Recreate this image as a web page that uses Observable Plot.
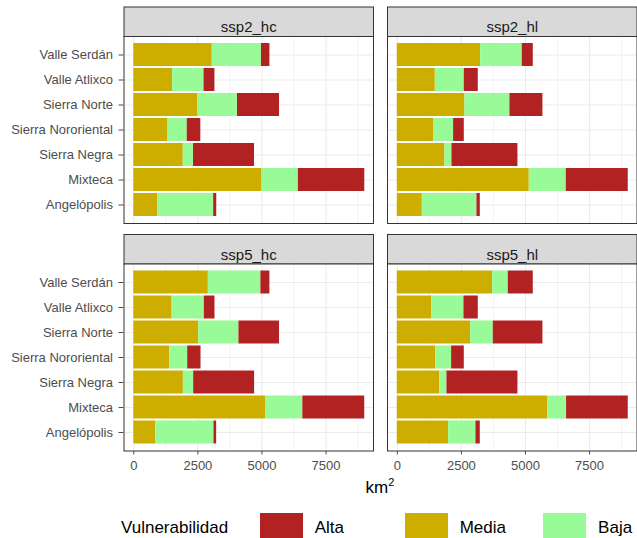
<!DOCTYPE html>
<html>
<head>
<meta charset="utf-8">
<script src="https://cdn.jsdelivr.net/npm/d3@7"></script>
<script src="https://cdn.jsdelivr.net/npm/@observablehq/plot@0.6"></script>
<style>
  html, body { margin: 0; padding: 0; background: #fff; }
  #wrap { position: relative; width: 637px; height: 538px; overflow: hidden; background: #fff;
          font-family: "Liberation Sans", Arial, Helvetica, sans-serif; }
  #chart { position: absolute; left: 0; top: 0; }
  #xtitle { position: absolute; left: 123.5px; width: 513px; top: 479px; text-align: center;
            font-size: 17px; line-height: 17px; color: #000; }
  #xtitle sup { font-size: 11px; vertical-align: 7px; line-height: 0; }
  .lg-title, .lg-label { position: absolute; font-size: 17px; line-height: 17px; color: #000; white-space: nowrap; }
  .lg-key { position: absolute; width: 43px; height: 32px; }
</style>
</head>
<body>
<div id="wrap">
  <div id="chart"></div>
  <div id="xtitle">km<sup>2</sup></div>
  <div id="legend"></div>
</div>
<script>
// Regions, top to bottom
const regions = ["Valle Serdán", "Valle Atlixco", "Sierra Norte", "Sierra Nororiental", "Sierra Negra", "Mixteca", "Angelópolis"];

// Vulnerability classes (legend order) and their fills
const classes = ["Alta", "Media", "Baja"];
const classColors = ["#B22222", "#CDAD00", "#98FB98"];
// Stacking order along x, from zero outward
const stackOrder = ["Media", "Baja", "Alta"];

// Scenario panels
const scenarios = ["ssp2_hc", "ssp2_hl", "ssp5_hc", "ssp5_hl"];

// Area (km²) per region and class, one set per scenario
const ssp2_hc = {
  Media: [3060, 1515, 2500, 1335, 1930, 5000, 926],
  Baja:  [1920, 1225, 1545, 750, 400, 1420, 2190],
  Alta:  [330, 425, 1640, 530, 2380, 2590, 120]
};
const ssp2_hl = {
  Media: [3250, 1482, 2639, 1430, 1859, 5148, 975],
  Baja:  [1625, 1131, 1755, 767, 273, 1443, 2132],
  Alta:  [430, 546, 1287, 416, 2574, 2418, 130]
};
const ssp5_hc = {
  Media: [2908, 1493, 2531, 1402, 1934, 5153, 857],
  Baja:  [2050, 1259, 1571, 701, 402, 1441, 2271],
  Alta:  [351, 415, 1583, 519, 2376, 2414, 104]
};
const ssp5_hl = {
  Media: [3718, 1339, 2860, 1495, 1651, 5863, 2002],
  Baja:  [611, 1261, 884, 624, 286, 741, 1066],
  Alta:  [975, 559, 1937, 494, 2769, 2405, 169]
};

// Axis ticks and minor grid
const xTicks = [0, 2500, 5000, 7500];
const xMinor = [1250, 3750, 6250, 8750];
const xDomain = [-382, 9350];

const scenarioData = {ssp2_hc, ssp2_hl, ssp5_hc, ssp5_hl};

// Long table: one row per scenario × region × class
const rows = [];
for (const panel of scenarios) {
  const [row, col] = panel.split("_");
  for (const clase of stackOrder) {
    scenarioData[panel][clase].forEach((value, i) => {
      rows.push({panel, row, col, region: regions[i], clase, value});
    });
  }
}

// Layout
const W = 637;
const marginLeft = 123.5, marginRight = 0.5, marginTop = 36, marginBottom = 27.5;
const panelW = 249.5, gapX = 14;
const panelH = 187, gapY = 40.5;
const stripH = 29.5;
const H = marginTop + 2 * panelH + gapY + marginBottom;

const chart = Plot.plot({
  width: W,
  height: H,
  marginLeft, marginRight, marginTop, marginBottom,
  style: {
    fontFamily: "'Liberation Sans', Arial, Helvetica, sans-serif",
    fontSize: "13px",
    color: "#4d4d4d",
    background: "transparent",
    overflow: "visible"
  },
  facet: {data: rows, x: "col", y: "row"},
  fx: {domain: ["hc", "hl"], axis: null, paddingInner: gapX / (panelW + gapX), paddingOuter: 0, round: false},
  fy: {domain: ["ssp2", "ssp5"], axis: null, paddingInner: gapY / (panelH + gapY), paddingOuter: 0, round: false},
  x: {domain: xDomain, ticks: xTicks, tickFormat: "d", tickSize: 4, tickPadding: 5.5, label: null},
  y: {domain: regions, paddingInner: 0.1, paddingOuter: 0.15, tickSize: 5, tickPadding: 6, label: null},
  color: {domain: classes, range: classColors},
  marks: [
    // strip above each panel
    Plot.frame({fill: "#d9d9d9", stroke: "#333333", strokeWidth: 1, insetTop: -stripH, insetBottom: panelH}),
    Plot.frame({fill: "#ffffff"}),
    // grid
    Plot.ruleX(xMinor, {stroke: "#ebebeb", strokeWidth: 0.6}),
    Plot.ruleX(xTicks, {stroke: "#ebebeb", strokeWidth: 1.1}),
    Plot.ruleY(regions, {stroke: "#ebebeb", strokeWidth: 1.1}),
    // stacked bars
    Plot.barX(rows, Plot.stackX({x: "value", y: "region", fill: "clase", order: stackOrder})),
    // panel border
    Plot.frame({stroke: "#333333", strokeWidth: 1}),
    // strip labels
    Plot.text(rows, Plot.selectFirst({
      text: "panel", frameAnchor: "top", dy: -stripH / 2,
      fill: "#1a1a1a", fontSize: 15
    }))
  ]
});
document.getElementById("chart").appendChild(chart);

// Legend below the chart
const legend = document.getElementById("legend");
const legendTitleX = 121, legendKeyX = [260, 405, 543.4], labelOffset = 54.7;
const legendKeyTop = 512.8, legendTextTop = 518.5;
const title = document.createElement("div");
title.className = "lg-title";
title.textContent = "Vulnerabilidad";
title.style.left = legendTitleX + "px";
title.style.top = legendTextTop + "px";
legend.appendChild(title);
classes.forEach((c, i) => {
  const key = document.createElement("div");
  key.className = "lg-key";
  key.style.background = classColors[i];
  key.style.left = legendKeyX[i] + "px";
  key.style.top = legendKeyTop + "px";
  legend.appendChild(key);
  const lab = document.createElement("div");
  lab.className = "lg-label";
  lab.textContent = c;
  lab.style.left = (legendKeyX[i] + labelOffset) + "px";
  lab.style.top = legendTextTop + "px";
  legend.appendChild(lab);
});
</script>
</body>
</html>
